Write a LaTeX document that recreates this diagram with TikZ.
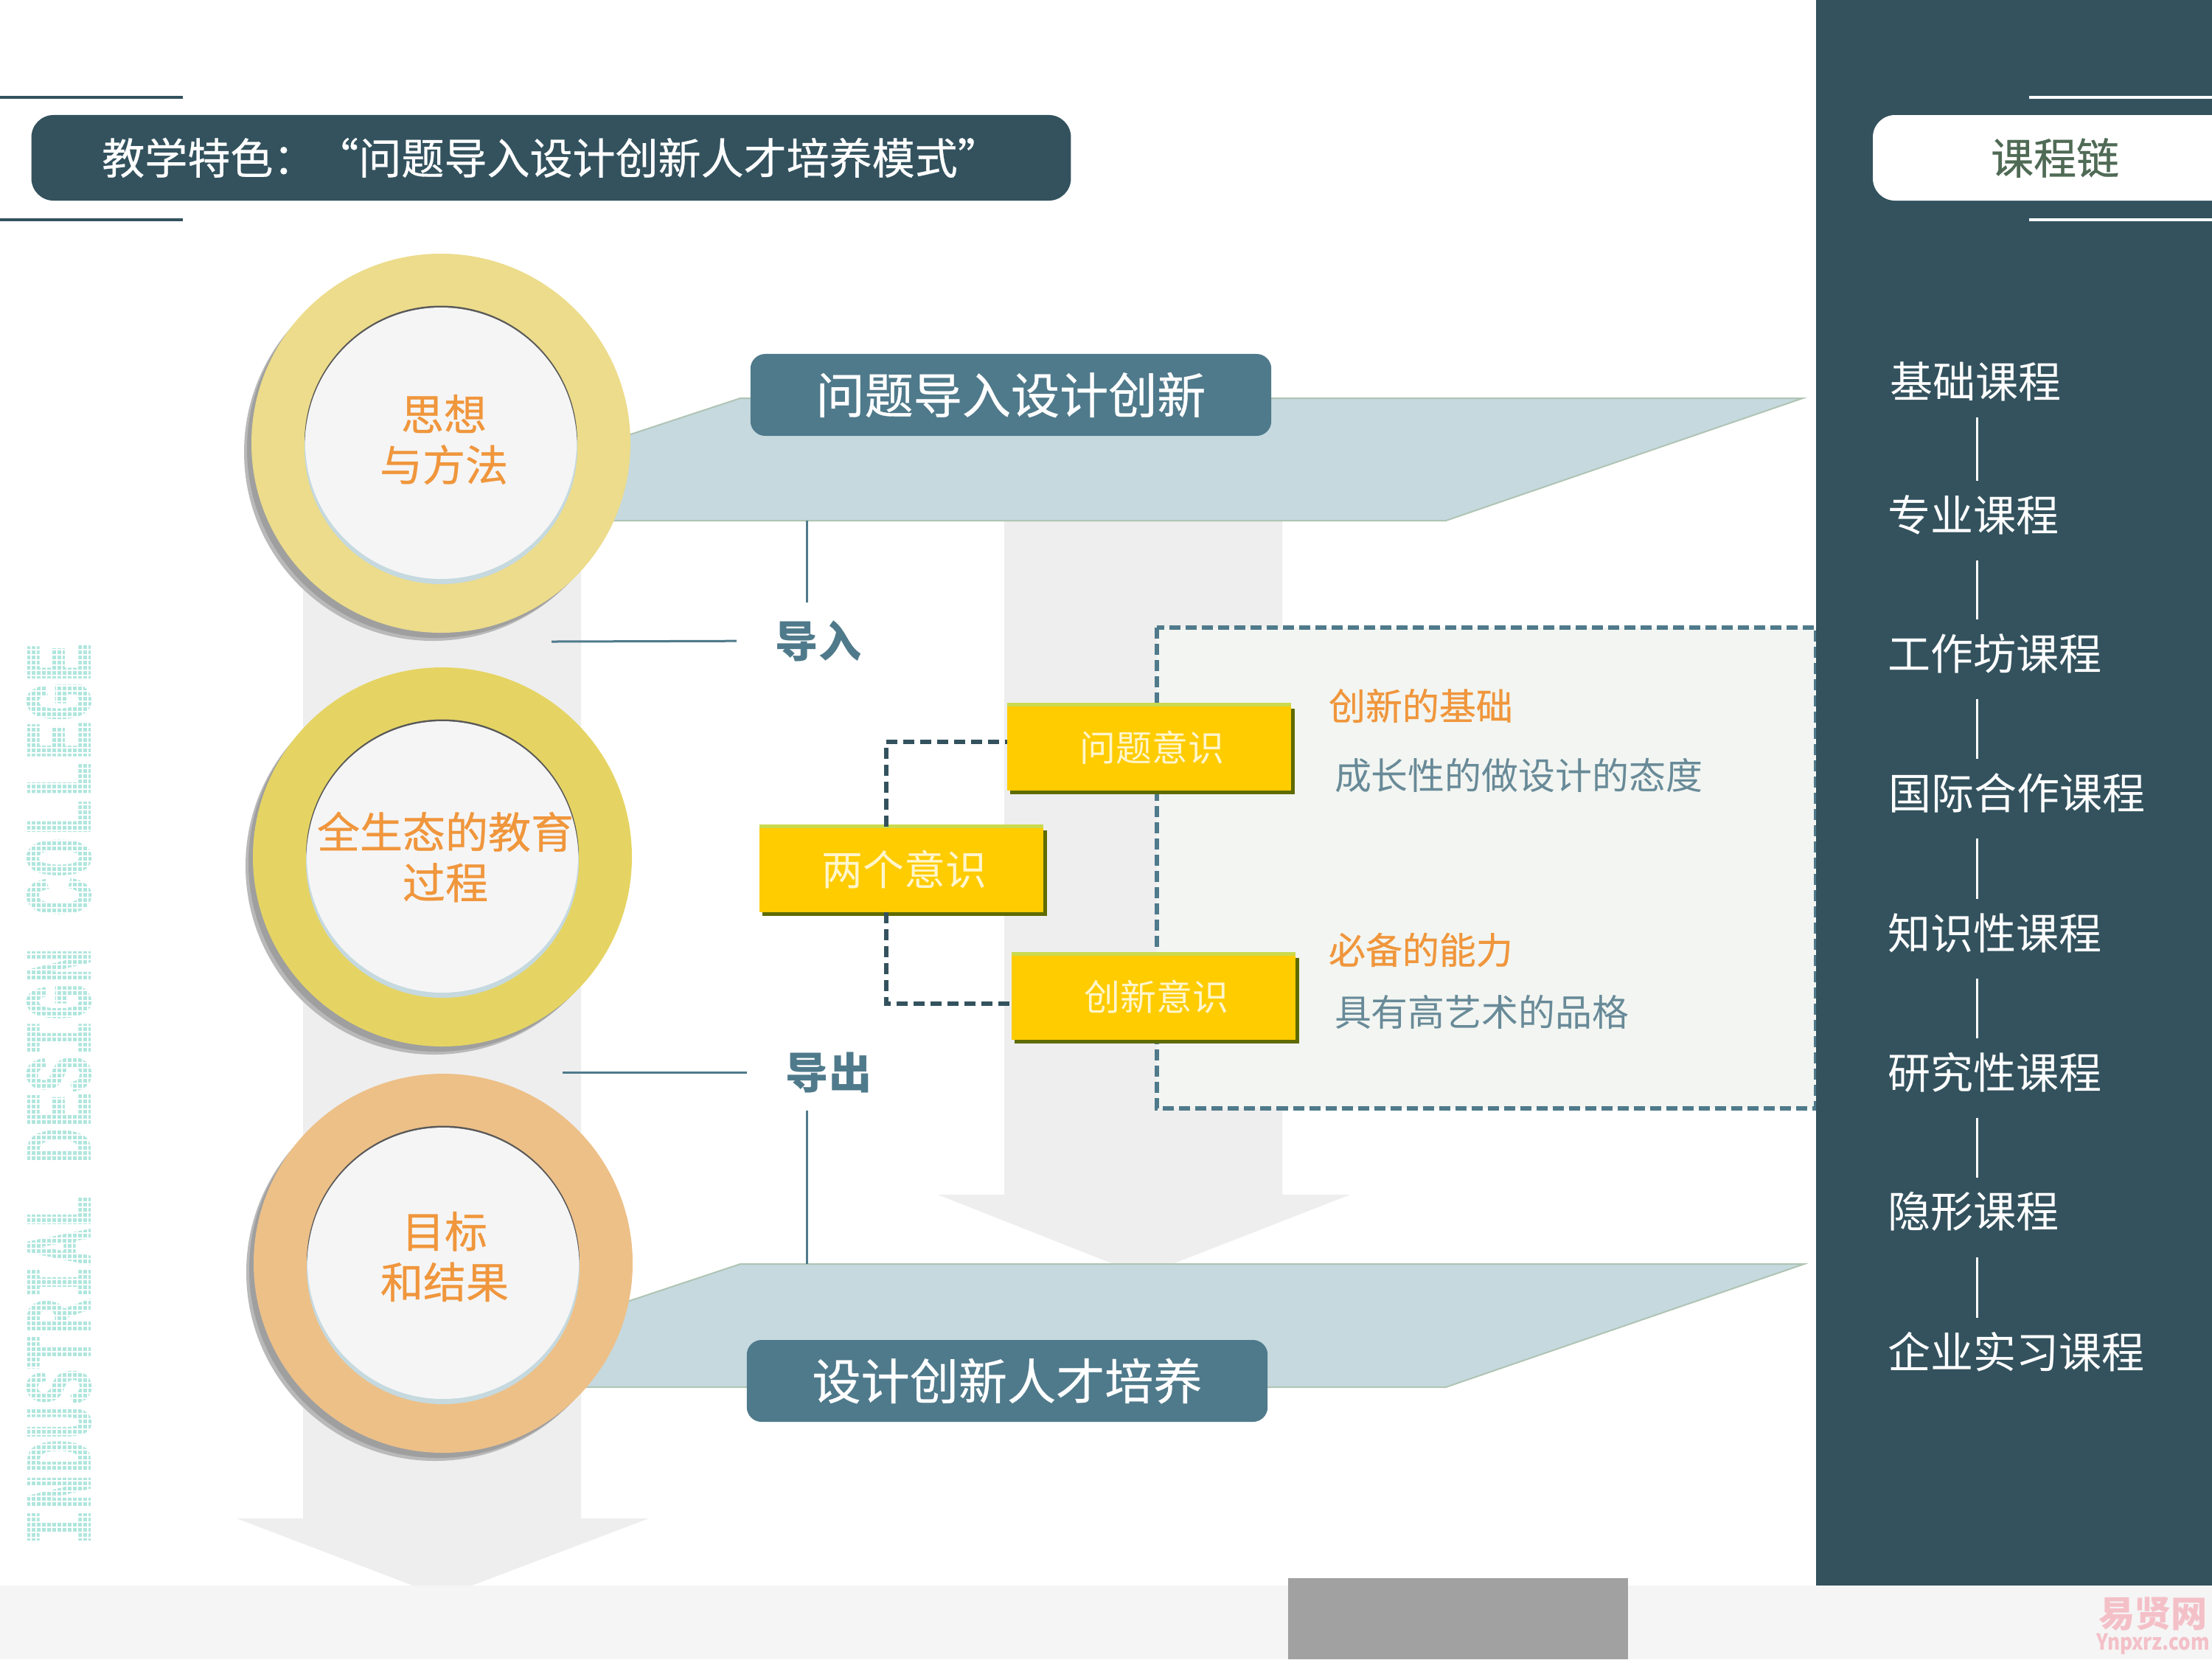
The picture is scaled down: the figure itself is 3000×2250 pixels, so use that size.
\documentclass[tikz,border=0pt]{standalone}
\usepackage{fontspec}
\usetikzlibrary{shadows,calc}
\setmainfont{Noto Sans CJK SC}
\newfontfamily\semi[FakeBold=0.5]{Noto Sans CJK SC}
\newfontfamily\latinmono[FakeBold=2]{Liberation Mono}
\definecolor{deep}{HTML}{33525E}
\definecolor{teal}{HTML}{4F7A8B}
\definecolor{pale}{HTML}{C5D9DF}
\definecolor{rimline}{HTML}{B0C4B4}
\definecolor{arrowgray}{HTML}{EEEEEE}
\definecolor{boxfill}{HTML}{F2F5F1}
\definecolor{boxy}{HTML}{FFCC00}
\definecolor{boxshadow}{HTML}{5F6B00}
\definecolor{boxtop}{HTML}{CBD94E}
\definecolor{orangetext}{HTML}{F0963C}
\definecolor{softtext}{HTML}{FFF6CC}
\definecolor{greytext}{HTML}{688A98}
\definecolor{ringa}{HTML}{ECDC8B}
\definecolor{ringb}{HTML}{E5D463}
\definecolor{ringc}{HTML}{EDC088}
\definecolor{innerc}{HTML}{F5F5F5}
\definecolor{dotted}{HTML}{B0E6DD}
\definecolor{stamp}{HTML}{F4C0C8}
\definecolor{coursehead}{HTML}{4F6A55}
\tikzset{
  x=0.01cm,y=-0.01cm,
  every node/.style={inner sep=0pt,outer sep=0pt},
  banner/.style={fill=teal,rounded corners=.2cm,minimum width=7.06cm,minimum height=1.11cm,text=white,font=\semi\fontsize{18.8pt}{22pt}\selectfont},
  band/.style={fill=pale,draw=rimline,line width=.02cm},
  gray arrow/.style={fill=arrowgray},
  ybox/.style={fill=boxy,minimum width=3.85cm,minimum height=1.16cm,text=softtext,font=\fontsize{13.9pt}{16pt}\selectfont,
     general shadow={shadow xshift=.045cm,shadow yshift=-.05cm,fill=boxshadow}},
  disc text/.style={align=center,text=orangetext,font=\semi\fontsize{16.5pt}{19.5pt}\selectfont},
  side label/.style={anchor=west,text=orangetext,font=\semi\fontsize{14.2pt}{16pt}\selectfont},
  side note/.style={anchor=west,text=greytext,font=\fontsize{14.2pt}{16pt}\selectfont},
  course/.style={anchor=west,minimum height=.92cm,text=white,font=\fontsize{16.5pt}{19pt}\selectfont},
  course link/.style={draw=white,line width=.03cm},
  thin link/.style={draw=teal,line width=.03cm},
  dash link/.style={draw=deep,line width=.06cm,dash pattern=on .15cm off .08cm},
  flow label/.style={text=teal,font=\bfseries\fontsize{16.5pt}{19pt}\selectfont},
  dot text/.style={rotate=90,yscale=1.55,text=dotted,font=\latinmono\bfseries\fontsize{23.2pt}{26pt}\selectfont},
}
\newcommand{\ringdisc}[7]{% x y colour name dx dy text
  \fill[gray!55] (#1-11,#2+12) circle (256);
  \fill[gray!75] (#1-7,#2+8) circle (256);
  \fill[#3] (#1,#2) circle (257);
  \fill[gray!70!black] (#1,#2-1.5) circle (185);
  \fill[pale] (#1,#2+6) circle (185);
  \fill[innerc] (#1,#2) circle (184);
  \node[disc text] (#4) at (#1+#5,#2+#6) {#7};
}
\begin{document}
\begin{tikzpicture}
\useasboundingbox (0,0) rectangle (3000,2250);
\fill[white] (0,0) rectangle (3000,2250);
% grey arrows
\fill[gray arrow] (411,700) -- (788,700) -- (788,2059) -- (880,2059) -- (640,2150) -- (560,2150) -- (321,2059) -- (411,2059) -- cycle;
\fill[gray arrow] (1362,700) -- (1739,700) -- (1739,1620) -- (1831,1620) -- (1590,1714) -- (1510,1714) -- (1272,1620) -- (1362,1620) -- cycle;
% bands
\coordinate (bandA) at (1094,706);
\coordinate (bandB) at (1094,1714);
\draw[band] (700,640) -- (1004,540) -- (2445,540) -- (1961,706) -- (700,706) -- cycle;
\draw[band] (700,1815) -- (1004,1714) -- (2447,1714) -- (1961,1881) -- (700,1881) -- cycle;
% dashed panel
\draw[fill=boxfill,draw=teal,line width=.06cm,dash pattern=on .15cm off .07cm] (1569,851) rectangle (2463,1503);
% bottom band and right column
\fill[innerc] (0,2150) rectangle (3000,2250);
\fill[black!37] (1747,2140) rectangle (2208,2250);
\fill[deep] (2463,0) rectangle (3000,2150);
% header
\draw[deep,line width=.045cm] (0,132) -- (248,132) (0,298) -- (248,298);
\node[fill=deep,rounded corners=.3cm,minimum width=14.09cm,minimum height=1.16cm,text=white,font=\semi\fontsize{16.5pt}{19pt}\selectfont] (title) at (747.5,214) {教学特色：“问题导入设计创新人才培养模式”};
\draw[white,line width=.045cm] (2752,132) -- (3000,132) (2752,298) -- (3000,298);
\fill[white,rounded corners=.3cm] (2540,156) rectangle (3060,272);
\fill[deep] (3000,156) rectangle (3060,272);
\node[text=coursehead,font=\semi\fontsize{16.5pt}{19pt}\selectfont] (chain) at (2787,214) {课程链};
% banners
\node[banner] (topbanner) at (1371,535.5) {问题导入设计创新};
\node[banner] (botbanner) at (1366,1872.5) {设计创新人才培养};
% rings
\ringdisc{598}{601}{ringa}{ringone}{4}{-5}{思想\\与方法}
\ringdisc{600}{1162}{ringb}{ringtwo}{4}{0}{全生态的教育\\过程}
\ringdisc{601}{1713}{ringc}{ringthree}{2}{-9}{目标\\和结果}
% flow labels
\node[flow label] (daoru) at (1110,869) {导入};
\node[flow label] (daochu) at (1124,1454) {导出};
\draw[thin link] (bandA) -- (bandA |- 0,817);
\draw[thin link] (bandB) -- (bandB |- 0,1506);
\draw[thin link,shorten >=.53cm] (748,870) -- (daoru.west);
\draw[thin link,shorten >=.53cm] (763,1454) -- (daochu.west);
% yellow boxes
\node[ybox] (qa) at (1558.5,1014) {\hspace{.08cm}问题意识};
\node[ybox,font=\fontsize{15.9pt}{18pt}\selectfont] (qb) at (1222.5,1179) {\hspace{.08cm}两个意识};
\node[ybox] (qc) at (1564.5,1351.5) {\hspace{.08cm}创新意识};
\foreach \n in {qa,qb,qc}{\draw[boxtop,line width=.05cm] (\n.north west) -- (\n.north east);}
\coordinate (qbx) at (1202,1179);
\draw[dash link] (qb.north -| qbx) -- (qbx |- 0,1006) -- (qa.west |- 0,1006);
\draw[dash link] (qb.south -| qbx) -- (qbx |- 0,1361) -- (qc.west |- 0,1361);
% panel texts
\node[side label] (la) at (1802,957) {创新的基础};
\node[side note] (lb) at (1810,1052) {成长性的做设计的态度};
\node[side label] (lc) at (1802,1288) {必备的能力};
\node[side note] (ld) at (1810,1372) {具有高艺术的品格};
% course chain
\node[course] (c1) at (2563,517) {基础课程};
\node[course] (c2) at (2560,698) {专业课程};
\node[course] (c3) at (2560,886) {工作坊课程};
\node[course] (c4) at (2561,1075) {国际合作课程};
\node[course] (c5) at (2560,1265) {知识性课程};
\node[course] (c6) at (2560,1454) {研究性课程};
\node[course] (c7) at (2560,1643) {隐形课程};
\node[course] (c8) at (2560,1833) {企业实习课程};
\coordinate (linkx) at (2681,0);
\draw[course link,shorten <=.03cm] (c1.south -| linkx) -- (c2.north -| linkx);
\foreach \a/\b in {c2/c3,c3/c4,c4/c5,c5/c6,c6/c7,c7/c8}{
  \draw[course link,shorten <=.16cm] (\a.south -| linkx) -- (\b.north -| linkx);}
% vertical dotted lettering
\node[dot text,xscale=0.97] (vertA) at (80,1857) {INDUSTRIAL};
\node[dot text,xscale=1.0] (vertB) at (80,1432) {DESIGN};
\node[dot text,xscale=1.08] (vertC) at (80,1057) {COLLEGE};
\foreach \i in {0,...,16}{\draw[white,line width=.025cm] (28+\i*7,860) -- (28+\i*7,2105);}
\foreach \i in {0,...,178}{\draw[white,line width=.025cm] (25,860+\i*7) -- (140,860+\i*7);}
% stamp
\node[text=stamp,font=\bfseries\fontsize{14pt}{15pt}\selectfont] (stampa) at (2920,2189) {易贤网};
\node[text=stamp,yscale=1.15,font=\bfseries\fontsize{7.4pt}{8pt}\selectfont] (stampb) at (2920,2229) {Ynpxrz.com};
\end{tikzpicture}
\end{document}
